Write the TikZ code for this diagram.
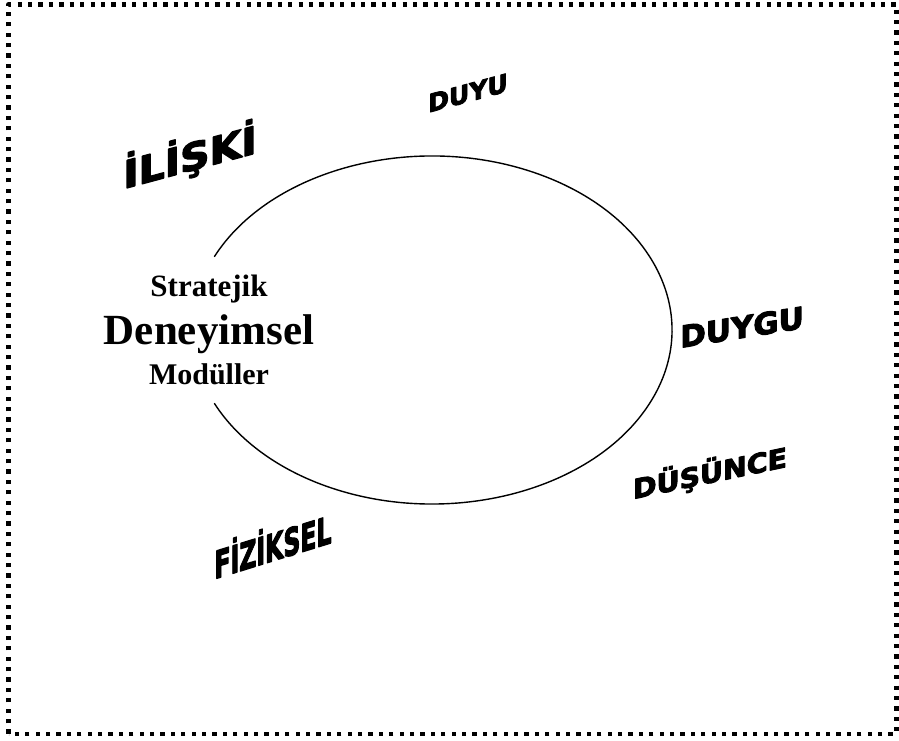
\documentclass[tikz,border=0pt]{standalone}
\usepackage{fontspec}
\setmainfont{Liberation Serif}
\newfontfamily\wordart{DejaVu Sans Bold}[FakeBold=3.5]

\begin{document}
\begin{tikzpicture}[x=1pt, y=1pt, line join=round, line cap=round,
    wordart/.style={font={\wordart\fontsize{#1}{#1}\selectfont}, anchor=base, inner sep=0pt},
    core/.style={font={\bfseries\fontsize{#1}{#1}\selectfont}, anchor=base, inner sep=0pt}]
  \useasboundingbox (0,0) rectangle (899,741);
  \draw[line width=4.2pt, line cap=butt, dash pattern=on 4.2pt off 6.2pt] (8.5,7.3) rectangle (896.5,736.5);
  \draw[line width=1.4pt] (432,411) ++(155:240 and 174) arc[start angle=155, end angle=-155, x radius=240, y radius=174];

  \node[core=31] (strat) at (209,444) {Stratejik};
  \node[core=43] (deney) at (209,396) {Deneyimsel};
  \node[core=30] (modul) at (209,356) {Modüller};

  \node[wordart=25, yslant=0.27] (duyu) at (468,639) {DUYU};
  \node[wordart=38, yslant=0.27, xscale=1.08] (iliski) at (190,570) {İLİŞKİ};
  \node[wordart=30, yslant=0.16, xscale=1.03] (duygu) at (742,403) {DUYGU};
  \node[wordart=27, yslant=0.21, xscale=1.05] (dusunce) at (710,258) {DÜŞÜNCE};
  \node[wordart=38, yslant=0.31, xscale=0.62] (fiziksel) at (273,180) {FİZİKSEL};
\end{tikzpicture}
\end{document}
